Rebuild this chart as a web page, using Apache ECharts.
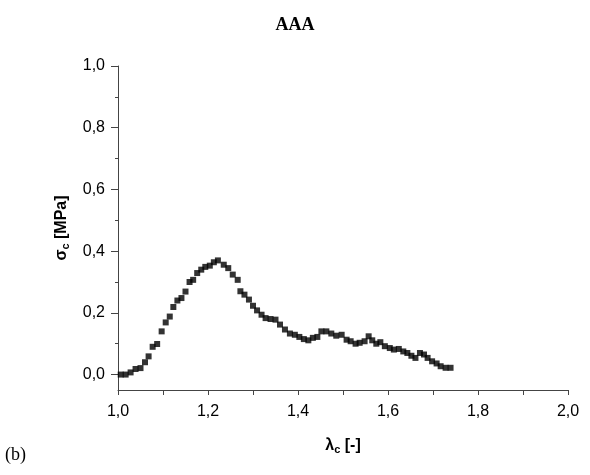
<!DOCTYPE html>
<html>
<head>
<meta charset="utf-8">
<script src="https://cdn.jsdelivr.net/npm/echarts@6/dist/echarts.min.js"></script>
<style>
  html, body { margin: 0; padding: 0; background: #fff; }
  #chart { width: 590px; height: 475px; }
</style>
</head>
<body>
<div id="chart"></div>
<script>
// lambda_c values (stretch) and sigma_c values (MPa)
var lambdaC = [1.006, 1.017, 1.028, 1.039, 1.050, 1.060, 1.068, 1.077, 1.087, 1.097,
    1.106, 1.115, 1.123, 1.132, 1.141, 1.150, 1.159, 1.167, 1.176, 1.185,
    1.194, 1.204, 1.213, 1.222, 1.235, 1.245, 1.255, 1.266, 1.272, 1.281,
    1.291, 1.300, 1.309, 1.319, 1.328, 1.339, 1.350, 1.360, 1.371, 1.382,
    1.393, 1.403, 1.413, 1.423, 1.433, 1.443, 1.452, 1.463, 1.474, 1.485,
    1.497, 1.508, 1.517, 1.528, 1.537, 1.548, 1.557, 1.565, 1.574, 1.583,
    1.593, 1.604, 1.613, 1.624, 1.634, 1.643, 1.652, 1.661, 1.671, 1.680,
    1.688, 1.698, 1.708, 1.717, 1.728, 1.739];
var sigmaC = [0.000, 0.000, 0.007, 0.018, 0.021, 0.040, 0.059, 0.090, 0.099, 0.140,
    0.169, 0.188, 0.219, 0.240, 0.248, 0.269, 0.300, 0.307, 0.329, 0.340,
    0.349, 0.353, 0.364, 0.370, 0.356, 0.345, 0.324, 0.307, 0.270, 0.259,
    0.243, 0.223, 0.208, 0.194, 0.183, 0.180, 0.178, 0.162, 0.146, 0.133,
    0.129, 0.122, 0.115, 0.111, 0.119, 0.122, 0.140, 0.140, 0.133, 0.126,
    0.129, 0.113, 0.108, 0.100, 0.103, 0.108, 0.124, 0.111, 0.100, 0.105,
    0.092, 0.086, 0.081, 0.083, 0.075, 0.070, 0.061, 0.054, 0.070, 0.065,
    0.054, 0.043, 0.036, 0.027, 0.022, 0.022];

// tick positions on the stress axis
var yMajorTicks = [0, 0.2, 0.4, 0.6, 0.8, 1.0];
var yMinorTicks = [0.1, 0.3, 0.5, 0.7, 0.9];

var chartTitle = 'AAA';
var panelLabel = '(b)';

function comma(v) {
    return v.toFixed(1).replace('.', ',');
}

var points = [];
for (var i = 0; i < lambdaC.length; i++) {
    points.push([lambdaC[i], sigmaC[i]]);
}

var axisColor = '#444';
var myChart = echarts.init(document.getElementById('chart'));
var option = {
    animation: false,
    title: {
        text: chartTitle,
        left: 'center',
        top: 11,
        textStyle: {
            fontFamily: 'Liberation Serif',
            fontWeight: 'bold',
            fontSize: 18,
            color: '#000'
        }
    },
    grid: {
        left: 118,
        right: 22,
        top: 66,
        bottom: 85
    },
    xAxis: {
        type: 'value',
        min: 1.0,
        max: 2.0,
        interval: 0.2,
        name: '{b|λ}{s|c}{b| [-]}',
        nameLocation: 'middle',
        nameGap: 46,
        nameTextStyle: {
            rich: {
                b: { fontFamily: 'Liberation Sans', fontWeight: 'bold', fontSize: 16, color: '#000' },
                s: { fontFamily: 'Liberation Sans', fontWeight: 'bold', fontSize: 11, color: '#000', verticalAlign: 'bottom', padding: [8, 0, 0, 0] }
            }
        },
        axisLine: { onZero: false, lineStyle: { color: axisColor, width: 1 } },
        axisTick: { length: 5, lineStyle: { color: axisColor } },
        minorTick: { show: true, splitNumber: 2, length: 5, lineStyle: { color: axisColor } },
        splitLine: { show: false },
        axisLabel: {
            margin: 14,
            fontFamily: 'Liberation Sans',
            fontSize: 16,
            color: '#000',
            formatter: comma
        }
    },
    yAxis: [{
        type: 'value',
        min: -0.05,
        max: 1.0,
        name: '{b|σ}{s|c}{b| [MPa]}',
        nameLocation: 'middle',
        nameGap: 47,
        nameTextStyle: {
            rich: {
                b: { fontFamily: 'Liberation Sans', fontWeight: 'bold', fontSize: 16, color: '#000' },
                s: { fontFamily: 'Liberation Sans', fontWeight: 'bold', fontSize: 11, color: '#000', verticalAlign: 'bottom', padding: [8, 0, 0, 0] }
            }
        },
        axisLine: { show: true, onZero: false, lineStyle: { color: axisColor, width: 1 } },
        axisTick: { show: true, length: 7, customValues: yMajorTicks, lineStyle: { color: axisColor } },
        splitLine: { show: false },
        axisLabel: {
            margin: 13,
            fontFamily: 'Liberation Sans',
            fontSize: 16,
            color: '#000',
            customValues: yMajorTicks,
            formatter: comma
        }
    }, {
        // second axis over the first, only for the short ticks
        type: 'value',
        position: 'left',
        min: -0.05,
        max: 1.0,
        axisLine: { show: false },
        axisTick: { show: true, length: 3, customValues: yMinorTicks, lineStyle: { color: axisColor } },
        axisLabel: { show: false },
        splitLine: { show: false }
    }],
    graphic: [{
        type: 'text',
        left: 5,
        top: 446,
        style: {
            text: panelLabel,
            fontFamily: 'Liberation Serif',
            fontSize: 18,
            fill: '#000'
        }
    }],
    series: [{
        type: 'scatter',
        data: points,
        symbol: 'rect',
        symbolSize: 6,
        itemStyle: { color: '#000' }
    }]
};
myChart.setOption(option);
</script>
</body>
</html>
